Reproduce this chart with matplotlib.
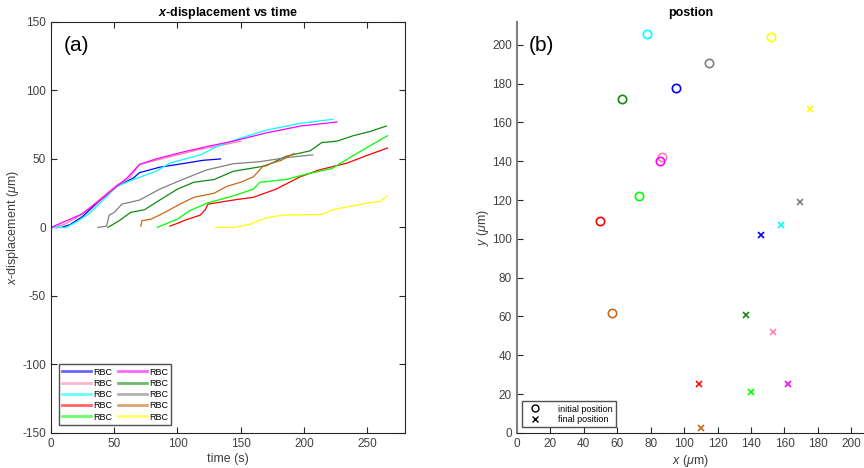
import matplotlib.pyplot as plt
from matplotlib.lines import Line2D

plt.rcParams['font.family'] = ['Liberation Sans', 'DejaVu Sans']
plt.rcParams['mathtext.fontset'] = 'custom'
plt.rcParams['mathtext.rm'] = 'Liberation Sans'
plt.rcParams['mathtext.it'] = 'Liberation Sans:italic'
plt.rcParams['mathtext.bf'] = 'Liberation Sans:bold'
plt.rcParams['mathtext.bfit'] = 'Liberation Sans:italic:bold'
plt.rcParams['axes.unicode_minus'] = False

# cell colours, same order for both panels
colors = ['#0000ff', '#ff80b0', '#00ffff', '#ff0000', '#00ff00',
          '#ff00ff', '#108a10', '#808080', '#cc6619', '#ffff00']
labels = ['RBC'] * 10

# x-displacement tracks: (time s, displacement um)
t_blue = [0, 8, 15, 25, 39, 52, 65, 70, 86, 107, 120, 134]
x_blue = [0, 0, 2, 8, 20, 30, 36, 40, 44, 47, 49, 50]
t_pink = [0, 10, 20, 30, 39, 52, 62, 70, 83, 100, 118, 135, 150]
x_pink = [0, 2, 7, 14, 21, 31, 36, 46, 49, 53, 57, 60, 63]
t_cyan = [0, 12, 20, 30, 39, 52, 65, 83, 94, 118, 131, 149, 170, 197, 223]
x_cyan = [0, 0, 4, 10, 18, 30, 35, 41, 47, 53, 59, 65, 71, 76, 79]
t_red = [94, 100, 105, 118, 122, 124, 144, 160, 178, 197, 212, 234, 251, 266]
x_red = [1, 3, 5, 9, 13, 17, 20, 22, 28, 37, 42, 47, 53, 58]
t_lgreen = [84, 93, 100, 109, 124, 144, 160, 165, 186, 202, 222, 238, 251, 266]
x_lgreen = [0, 3.5, 6, 12, 18, 23, 28, 33, 35, 39, 43, 52, 59, 67]
t_magenta = [0, 15, 25, 39, 52, 60, 70, 83, 104, 123, 144, 170, 197, 226]
x_magenta = [0, 6, 10, 20, 30, 36, 46, 50, 55, 59, 63, 69, 74, 77]
t_dgreen = [45, 54, 63, 74, 86, 100, 113, 129, 144, 170, 186, 205, 214, 226, 239, 252, 265]
x_dgreen = [0, 5, 11, 13, 20, 28, 33, 35, 41, 45, 52, 56, 62, 63, 67, 70, 74]
t_gray = [37, 44, 46, 50, 56, 70, 86, 104, 123, 144, 165, 186, 207]
x_gray = [0, 1, 9, 11, 17, 20, 28, 35, 42, 46.5, 48, 51, 53]
t_brown = [71, 72, 79, 90, 104, 113, 129, 139, 150, 160, 168, 182, 192]
x_brown = [1, 5, 6, 11, 18, 22, 25, 30, 33, 37, 45, 49, 54]
t_yellow = [130, 145, 156, 170, 183, 214, 223, 251, 260, 266]
x_yellow = [0, 0, 2, 7, 9, 9.5, 13, 18, 19, 23]

tracks = [(t_blue, x_blue), (t_pink, x_pink), (t_cyan, x_cyan), (t_red, x_red),
          (t_lgreen, x_lgreen), (t_magenta, x_magenta), (t_dgreen, x_dgreen),
          (t_gray, x_gray), (t_brown, x_brown), (t_yellow, x_yellow)]

# start / end positions (um)
x0 = [95, 87, 78, 50, 73, 85.5, 63, 115, 57, 152]
y0 = [178, 142, 205.5, 109, 122, 140, 172, 190.5, 62, 204]
x1 = [146, 153, 158, 109, 140, 162, 137, 169, 110, 175]
y1 = [102, 52, 107, 25, 21, 25, 61, 119, 2.5, 167]

fig = plt.figure(figsize=(8.64, 4.68), dpi=100)
axc = '#262626'
tc = '#404040'

# (a) displacement vs time
ax = fig.add_axes([0.059, 0.075, 0.41, 0.878])
for (t, x), c in zip(tracks, colors):
    ax.plot(t, x, color=c, lw=0.9)
ax.set_xlim(0, 280)
ax.set_ylim(-150, 150)
ax.set_xticks(range(0, 251, 50))
ax.set_yticks(range(-150, 151, 50))
ax.tick_params(direction='in', top=True, right=True, labelsize=8.5,
               colors=axc, labelcolor=tc, length=4)
for s in ax.spines.values():
    s.set_color(axc)
ax.set_xlabel('time (s)', fontsize=9, color=tc, labelpad=2)
ax.set_ylabel(r'$x$-displacement ($\mu$m)', fontsize=9, color=tc, labelpad=1)
ax.set_title(r'$\mathbfit{x}$-displacement vs time', fontsize=9,
             fontweight='bold', pad=4)
ax.text(0.035, 0.965, '(a)', transform=ax.transAxes, fontsize=15,
        va='top', ha='left')
handles = [Line2D([], [], color=c, lw=2, alpha=0.6) for c in colors]
ax.legend(handles, labels, ncol=2, loc='lower left', fontsize=6.5,
          frameon=True, fancybox=False, edgecolor=axc, handlelength=3.2,
          handletextpad=0.25, columnspacing=0.6, labelspacing=0.25,
          borderaxespad=0.9, borderpad=0.35)

# (b) initial and final positions
bx = fig.add_axes([0.598, 0.075, 0.402, 0.878])
for i, c in enumerate(colors):
    bx.plot(x0[i], y0[i], 'o', mfc='none', mec=c, ms=6, mew=1.2)
    bx.plot(x1[i], y1[i], 'x', color=c, ms=4, mew=1.2)
bx.set_xlim(0, 207.5)
bx.set_ylim(0, 211.8)
bx.set_xticks(range(0, 201, 20))
bx.set_yticks(range(0, 201, 20))
bx.spines['top'].set_visible(False)
bx.spines['right'].set_visible(False)
bx.spines['left'].set_color('#808080')
bx.spines['left'].set_linewidth(1.5)
bx.spines['bottom'].set_color(axc)
bx.tick_params(direction='in', labelsize=8.5, colors=axc, labelcolor=tc,
               length=4)
bx.set_xlabel(r'$x$ ($\mu$m)', fontsize=9, color=tc, labelpad=2)
bx.set_ylabel(r'$y$ ($\mu$m)', fontsize=9, color=tc, labelpad=1)
bx.set_title('postion', fontsize=9, fontweight='bold', pad=4)
bx.text(0.035, 0.965, '(b)', transform=bx.transAxes, fontsize=15,
        va='top', ha='left')
mh = [Line2D([], [], ls='none', marker='o', mfc='none', mec='k', ms=5, mew=1),
      Line2D([], [], ls='none', marker='x', color='k', ms=4, mew=1)]
bx.legend(mh, ['initial position', 'final position'], loc='lower left',
          fontsize=6.5, frameon=True, fancybox=False, edgecolor=axc,
          handlelength=2.2, handletextpad=1.4, labelspacing=0.2,
          borderaxespad=0.6, borderpad=0.35)

fig.savefig('out.png', dpi=100)
